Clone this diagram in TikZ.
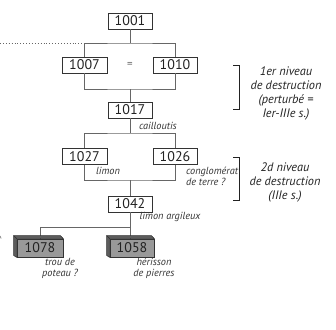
\documentclass[tikz,border=0pt]{standalone}
\usepackage{fontspec}
\setmainfont{PT Sans}
\usetikzlibrary{calc}
\definecolor{linec}{HTML}{666666}
\definecolor{boxc}{HTML}{333333}
\definecolor{txtc}{HTML}{222222}
\definecolor{front}{HTML}{999999}
\definecolor{side}{HTML}{5c5c5c}
\tikzset{
  ubox/.style={draw=boxc, line width=0.9pt, fill=white, minimum width=44pt, minimum height=16pt, inner sep=0pt, text=txtc, font=\fontsize{14}{14}\selectfont},
  sbox/.style={draw=boxc, line width=0.8pt, fill=front, minimum width=46pt, minimum height=18pt, inner sep=0pt, text=txtc, font=\fontsize{14}{14}\selectfont},
  conn/.style={draw=linec, line width=0.9pt},
  lbl/.style={text=boxc, font=\itshape\fontsize{10.3}{11}\selectfont, inner sep=0pt},
  blbl/.style={text=txtc, font=\itshape\fontsize{12.3}{13.7}\selectfont, inner sep=0pt, align=center},
  brk/.style={draw=txtc, line width=0.9pt}
}
\begin{document}
\begin{tikzpicture}[x=1pt,y=-1pt]
\useasboundingbox (0,0) rectangle (336,329);
% boxes
\node[ubox] (b1001) at (130,21) {1001};
\node[ubox, minimum width=45pt] (b1007) at (84.5,65) {1007};
\node[ubox] (b1010) at (175,65) {1010};
\node[text=linec, font=\fontsize{11}{11}\selectfont, inner sep=0pt] (eq) at (130,65) {=};
\node[ubox] (b1017) at (130,110) {1017};
\node[ubox, minimum width=45pt] (b1027) at (84.5,156.5) {1027};
\node[ubox] (b1026) at (175,156.5) {1026};
\node[ubox] (b1042) at (130,204) {1042};
% junctions
\coordinate (j1) at (130,43);
\coordinate (j2) at (130,89);
\coordinate (j3) at (130,133);
\coordinate (j4) at (130,180);
\coordinate (j5) at (130,227);
\coordinate (dl) at (0,43);
% shaded boxes (front faces)
\node[sbox] (b1078) at (40,248) {};
\node[sbox, minimum width=44pt] (b1058) at (132,248) {};
% connectors
\draw[conn] (b1001) -- (j1);
\draw[conn] (b1007.north) |- (j1) -| (b1010.north);
\draw[conn, dotted] (dl) -- (b1007.north |- j1);
\draw[conn] (b1007.south) |- (j2) -| (b1010.south);
\draw[conn] (j2) -- (b1017.north);
\draw[conn] (b1017.south) -- (j3);
\draw[conn] (b1027.north) |- (j3) -| (b1026.north);
\draw[conn] (b1027.south) |- (j4) -| (b1026.south);
\draw[conn] (j4) -- (b1042.north);
\draw[conn] (b1042.south) -- (b1042.south |- b1058.north);
\draw[conn] (b1078.north) |- (j5);
% 3D faces
\foreach \n in {b1078,b1058}{
  \filldraw[fill=side, draw=boxc, line width=0.5pt, line join=round]
    (\n.north west) -- ++(-3,-3) -- ($(\n.north east)+(-3,-3)$) -- (\n.north east) -- cycle;
  \filldraw[fill=side, draw=boxc, line width=0.5pt, line join=round]
    (\n.north west) -- ++(-3,-3) -- ($(\n.south west)+(-3,-2)$) -- (\n.south west) -- cycle;
}
\node[text=txtc, font=\fontsize{14}{14}\selectfont, inner sep=0pt] at (b1078) {1078};
\node[text=txtc, font=\fontsize{14}{14}\selectfont, inner sep=0pt] at (b1058) {1058};
% labels
\node[lbl] (l1) at (158,126) {cailloutis};
\node[lbl] (l2) at (108,171) {limon};
\node[lbl, align=left, anchor=west] (l3) at (186,176.5) {conglomérat\\de terre ?};
\node[lbl] (l4) at (170,217) {limon argileux};
\node[lbl, align=center] (l5) at (60,268.5) {trou de\\poteau ?};
\node[lbl, align=center] (l6) at (154,268.5) {hérisson\\de pierres};
% brackets
\coordinate (k1a) at (233,65);
\coordinate (k1b) at (233,109);
\coordinate (k2a) at (233,157);
\coordinate (k2b) at (233,200);
\draw[brk] (k1a) -- ++(6,0) -- ($(k1b)+(6,0)$) -- (k1b);
\draw[brk] (k2a) -- ++(6,0) -- ($(k2b)+(6,0)$) -- (k2b);
\node[blbl] (t1) at (286,93.5) {1er niveau\\de destruction\\(perturbé =\\Ier-IIIe s.)};
\node[blbl] (t2) at (285,182.5) {2d niveau\\de destruction\\(IIIe s.)};
% edge mark
\coordinate (m1) at (0,236);
\coordinate (m2) at (1.2,238.5);
\draw[draw=linec, line width=0.6pt] (m1) -- (m2);
\end{tikzpicture}
\end{document}
